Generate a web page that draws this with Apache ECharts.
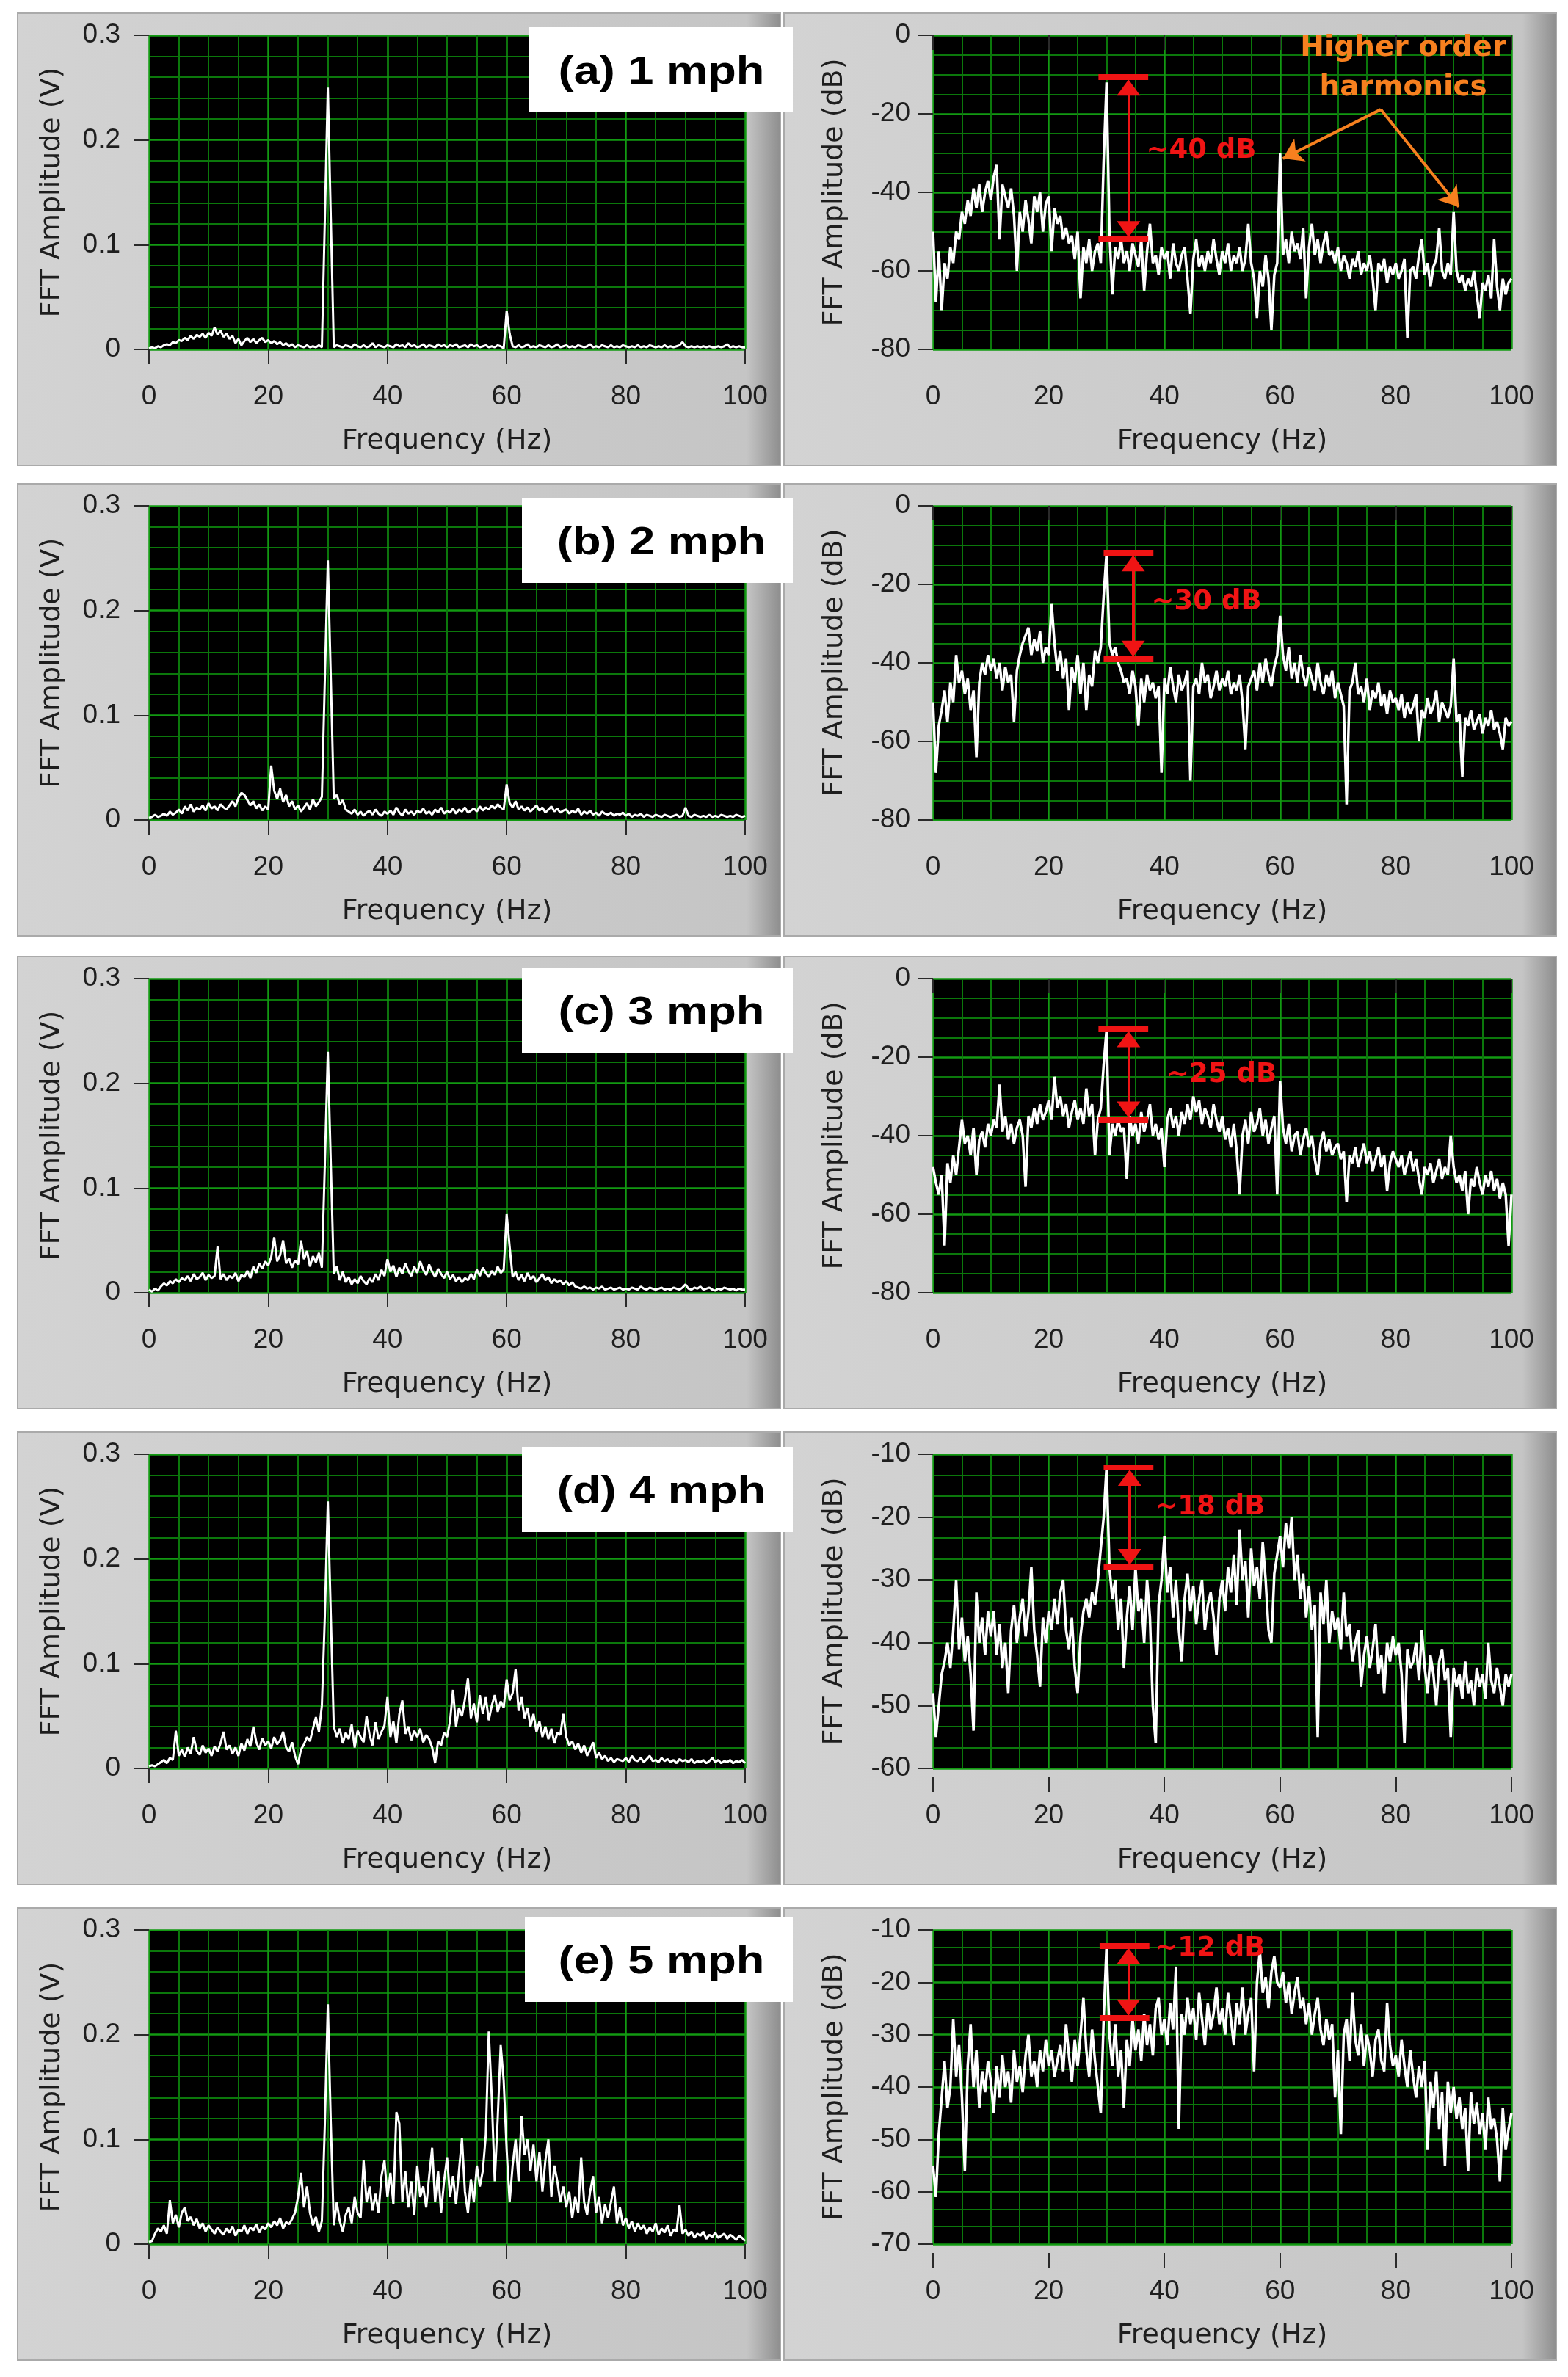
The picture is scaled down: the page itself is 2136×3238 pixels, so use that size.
<!DOCTYPE html>
<html>
<head>
<meta charset="utf-8">
<title>FFT spectra, 1 to 5 mph</title>
<script src="https://cdn.jsdelivr.net/npm/echarts@6/dist/echarts.min.js"></script>
<style>
html, body { margin: 0; padding: 0; background: #fff; }
#chart { width: 2136px; height: 3238px; }
</style>
</head>
<body>
<div id="chart"></div>
<script>
var FREQ_STEP = 0.5;

var speedTags = ['(a) 1 mph', '(b) 2 mph', '(c) 3 mph', '(d) 4 mph', '(e) 5 mph'];

// linear FFT amplitude (V)
var ampA = [
  0.001,0.002,0.001,0.003,0.002,0.004,0.005,0.004,0.007,0.006,0.009,0.008,0.011,0.009,0.013,0.010,0.014,0.012,0.015,0.011,
  0.016,0.013,0.021,0.014,0.018,0.012,0.015,0.010,0.013,0.006,0.010,0.004,0.008,0.011,0.007,0.010,0.006,0.009,0.011,0.007,
  0.009,0.006,0.008,0.005,0.007,0.004,0.006,0.003,0.005,0.002,0.004,0.003,0.002,0.004,0.002,0.003,0.002,0.004,0.002,0.125,
  0.250,0.125,0.002,0.004,0.003,0.002,0.004,0.003,0.002,0.005,0.003,0.002,0.004,0.002,0.003,0.006,0.002,0.004,0.003,0.002,
  0.004,0.003,0.002,0.005,0.003,0.004,0.002,0.006,0.003,0.004,0.002,0.003,0.005,0.002,0.004,0.003,0.002,0.005,0.003,0.004,
  0.002,0.004,0.003,0.005,0.002,0.003,0.004,0.002,0.005,0.003,0.004,0.002,0.003,0.004,0.002,0.003,0.002,0.004,0.003,0.001,
  0.037,0.015,0.003,0.002,0.004,0.002,0.003,0.005,0.002,0.003,0.002,0.004,0.003,0.002,0.004,0.002,0.003,0.005,0.002,0.003,
  0.004,0.002,0.003,0.002,0.004,0.003,0.002,0.003,0.005,0.002,0.003,0.002,0.004,0.003,0.002,0.004,0.002,0.003,0.002,0.004,
  0.003,0.002,0.003,0.002,0.004,0.002,0.003,0.002,0.004,0.003,0.002,0.003,0.002,0.004,0.002,0.003,0.002,0.003,0.004,0.007,
  0.003,0.002,0.003,0.002,0.003,0.002,0.003,0.002,0.003,0.002,0.002,0.003,0.002,0.003,0.005,0.002,0.003,0.002,0.003,0.002,
  0.002
];
var ampB = [
  0.002,0.003,0.005,0.003,0.004,0.006,0.004,0.008,0.005,0.007,0.010,0.006,0.013,0.009,0.015,0.008,0.012,0.010,0.014,0.009,
  0.016,0.011,0.013,0.009,0.015,0.012,0.010,0.014,0.018,0.013,0.021,0.026,0.024,0.019,0.014,0.018,0.011,0.015,0.009,0.013,
  0.010,0.052,0.028,0.020,0.030,0.017,0.024,0.013,0.018,0.010,0.014,0.008,0.012,0.016,0.010,0.020,0.013,0.017,0.022,0.135,
  0.248,0.135,0.020,0.024,0.015,0.019,0.010,0.008,0.006,0.010,0.005,0.008,0.004,0.007,0.009,0.005,0.010,0.006,0.004,0.008,
  0.006,0.009,0.005,0.012,0.007,0.004,0.010,0.006,0.008,0.005,0.009,0.007,0.011,0.006,0.008,0.005,0.010,0.007,0.012,0.006,
  0.009,0.007,0.011,0.006,0.010,0.008,0.012,0.007,0.009,0.011,0.008,0.013,0.009,0.012,0.010,0.014,0.011,0.015,0.012,0.010,
  0.034,0.016,0.012,0.018,0.010,0.013,0.009,0.012,0.008,0.011,0.014,0.009,0.012,0.007,0.010,0.013,0.008,0.011,0.007,0.009,
  0.010,0.006,0.009,0.007,0.011,0.005,0.008,0.006,0.009,0.005,0.007,0.004,0.008,0.006,0.005,0.007,0.004,0.006,0.005,0.007,
  0.004,0.006,0.003,0.005,0.004,0.006,0.003,0.005,0.004,0.003,0.005,0.004,0.003,0.005,0.004,0.003,0.004,0.005,0.003,0.004,
  0.012,0.004,0.003,0.005,0.004,0.003,0.004,0.003,0.005,0.003,0.004,0.003,0.005,0.004,0.003,0.004,0.003,0.005,0.004,0.003,
  0.004
];
var ampC = [
  0.003,0.001,0.004,0.002,0.006,0.009,0.007,0.011,0.009,0.013,0.010,0.014,0.012,0.016,0.011,0.018,0.013,0.015,0.019,0.012,
  0.017,0.014,0.016,0.044,0.013,0.018,0.012,0.016,0.014,0.019,0.011,0.017,0.015,0.021,0.014,0.025,0.019,0.028,0.023,0.030,
  0.026,0.034,0.053,0.030,0.036,0.050,0.028,0.033,0.024,0.031,0.027,0.050,0.032,0.040,0.025,0.035,0.029,0.038,0.024,0.123,
  0.230,0.123,0.018,0.025,0.012,0.020,0.010,0.015,0.008,0.013,0.009,0.016,0.011,0.008,0.014,0.010,0.018,0.012,0.022,0.016,
  0.032,0.020,0.026,0.015,0.024,0.018,0.028,0.021,0.016,0.025,0.019,0.030,0.022,0.017,0.027,0.020,0.015,0.023,0.018,0.014,
  0.020,0.013,0.017,0.011,0.015,0.010,0.014,0.012,0.018,0.013,0.022,0.016,0.024,0.019,0.015,0.021,0.017,0.025,0.019,0.022,
  0.075,0.044,0.015,0.020,0.012,0.017,0.011,0.019,0.013,0.016,0.010,0.014,0.018,0.012,0.015,0.009,0.013,0.010,0.012,0.008,
  0.011,0.007,0.010,0.006,0.005,0.004,0.006,0.004,0.005,0.003,0.005,0.004,0.006,0.003,0.004,0.005,0.003,0.004,0.005,0.003,
  0.004,0.003,0.005,0.004,0.003,0.006,0.004,0.003,0.005,0.004,0.003,0.004,0.005,0.003,0.004,0.003,0.005,0.004,0.003,0.005,
  0.008,0.004,0.003,0.005,0.004,0.006,0.003,0.004,0.005,0.003,0.002,0.004,0.003,0.005,0.004,0.003,0.004,0.002,0.004,0.003,
  0.003
];
var ampD = [
  0.002,0.003,0.002,0.004,0.006,0.008,0.005,0.010,0.008,0.036,0.012,0.018,0.011,0.020,0.014,0.030,0.017,0.013,0.022,0.015,
  0.019,0.012,0.021,0.016,0.024,0.035,0.018,0.022,0.014,0.020,0.012,0.024,0.017,0.028,0.021,0.040,0.025,0.018,0.029,0.022,
  0.026,0.019,0.030,0.023,0.027,0.035,0.020,0.016,0.025,0.012,0.004,0.018,0.023,0.030,0.026,0.038,0.049,0.035,0.060,0.146,
  0.255,0.146,0.040,0.030,0.038,0.024,0.034,0.028,0.042,0.020,0.036,0.030,0.025,0.050,0.032,0.022,0.044,0.028,0.035,0.041,
  0.068,0.030,0.045,0.024,0.052,0.065,0.033,0.040,0.027,0.036,0.030,0.038,0.025,0.032,0.028,0.020,0.005,0.026,0.022,0.034,
  0.030,0.045,0.075,0.040,0.058,0.050,0.066,0.086,0.048,0.062,0.044,0.070,0.052,0.068,0.046,0.060,0.070,0.054,0.064,0.058,
  0.085,0.065,0.072,0.095,0.055,0.068,0.048,0.058,0.040,0.052,0.035,0.045,0.030,0.040,0.028,0.038,0.024,0.034,0.032,0.052,
  0.030,0.022,0.026,0.018,0.024,0.015,0.022,0.012,0.018,0.025,0.010,0.015,0.009,0.012,0.007,0.010,0.006,0.009,0.008,0.007,
  0.010,0.006,0.012,0.008,0.007,0.010,0.006,0.009,0.012,0.007,0.008,0.006,0.010,0.007,0.009,0.006,0.008,0.005,0.009,0.007,
  0.008,0.006,0.009,0.005,0.007,0.006,0.008,0.005,0.007,0.010,0.006,0.008,0.005,0.007,0.006,0.008,0.005,0.007,0.006,0.008,
  0.005
];
var ampE = [
  0.002,0.003,0.010,0.015,0.012,0.018,0.010,0.042,0.020,0.028,0.016,0.030,0.035,0.022,0.026,0.018,0.024,0.015,0.020,0.012,
  0.018,0.014,0.010,0.016,0.012,0.009,0.015,0.011,0.017,0.008,0.014,0.012,0.018,0.010,0.016,0.013,0.019,0.011,0.017,0.014,
  0.020,0.016,0.022,0.018,0.025,0.015,0.021,0.019,0.024,0.030,0.045,0.068,0.035,0.055,0.030,0.018,0.026,0.012,0.022,0.115,
  0.229,0.115,0.018,0.040,0.022,0.012,0.028,0.035,0.020,0.045,0.030,0.025,0.080,0.040,0.055,0.032,0.048,0.030,0.065,0.080,
  0.045,0.068,0.038,0.126,0.115,0.040,0.070,0.035,0.060,0.028,0.075,0.045,0.055,0.035,0.065,0.092,0.040,0.070,0.030,0.060,
  0.083,0.045,0.065,0.038,0.070,0.101,0.050,0.030,0.062,0.040,0.075,0.055,0.070,0.104,0.203,0.140,0.060,0.120,0.190,0.156,
  0.090,0.040,0.075,0.100,0.060,0.122,0.085,0.100,0.070,0.095,0.060,0.088,0.050,0.080,0.100,0.045,0.075,0.060,0.040,0.055,
  0.035,0.050,0.025,0.045,0.030,0.083,0.040,0.028,0.050,0.065,0.030,0.045,0.020,0.038,0.025,0.040,0.055,0.020,0.035,0.018,
  0.025,0.015,0.022,0.012,0.020,0.014,0.018,0.010,0.016,0.012,0.020,0.009,0.015,0.011,0.018,0.008,0.014,0.012,0.037,0.010,
  0.014,0.008,0.012,0.006,0.010,0.008,0.012,0.005,0.009,0.007,0.011,0.006,0.008,0.010,0.005,0.009,0.007,0.004,0.008,0.006,
  0.003
];

// FFT amplitude in dB
var dbA = [
  -50,-68,-55,-70,-58,-62,-54,-58,-50,-52,-45,-48,-42,-46,-39,-44,-38,-45,-40,-37,
  -42,-36,-33,-52,-38,-41,-44,-39,-46,-60,-45,-50,-42,-47,-53,-41,-45,-40,-50,-43,
  -41,-55,-44,-48,-46,-52,-49,-53,-51,-57,-50,-67,-54,-58,-52,-60,-55,-53,-58,-32,
  -12,-50,-66,-54,-57,-52,-58,-55,-60,-53,-56,-59,-52,-65,-55,-48,-58,-56,-61,-54,
  -57,-55,-62,-53,-58,-60,-56,-54,-62,-71,-57,-52,-59,-56,-60,-55,-58,-52,-57,-61,
  -55,-58,-53,-60,-56,-58,-54,-60,-57,-48,-58,-62,-72,-60,-64,-56,-62,-75,-61,-58,
  -30,-56,-52,-58,-50,-55,-53,-57,-49,-67,-54,-48,-56,-52,-58,-53,-50,-56,-55,-58,
  -54,-60,-56,-58,-62,-57,-59,-55,-61,-58,-60,-56,-62,-70,-58,-60,-57,-63,-59,-61,
  -58,-62,-60,-57,-77,-60,-59,-62,-56,-52,-61,-58,-64,-59,-57,-49,-60,-62,-58,-61,
  -45,-60,-63,-61,-65,-62,-64,-60,-66,-72,-63,-65,-61,-67,-52,-64,-70,-62,-66,-63,
  -62
];
var dbB = [
  -50,-68,-56,-52,-47,-55,-45,-50,-38,-45,-42,-48,-44,-52,-47,-64,-45,-40,-43,-38,
  -42,-39,-44,-40,-47,-41,-45,-43,-55,-42,-38,-35,-33,-31,-38,-34,-37,-32,-40,-36,
  -38,-25,-35,-42,-37,-44,-39,-52,-41,-45,-38,-48,-40,-52,-43,-46,-37,-40,-36,-23,
  -12,-35,-38,-36,-40,-42,-45,-44,-48,-42,-46,-56,-44,-50,-43,-47,-45,-49,-46,-68,
  -44,-48,-41,-46,-50,-43,-47,-45,-42,-70,-46,-44,-48,-40,-45,-43,-49,-46,-42,-47,
  -44,-46,-42,-48,-45,-47,-43,-50,-62,-46,-44,-42,-47,-40,-45,-39,-43,-46,-41,-38,
  -28,-38,-42,-36,-44,-40,-45,-38,-43,-46,-41,-44,-47,-40,-45,-48,-43,-46,-42,-49,
  -45,-48,-51,-76,-47,-45,-40,-48,-46,-50,-44,-52,-47,-49,-45,-51,-48,-53,-47,-50,
  -49,-52,-48,-54,-50,-53,-51,-48,-60,-52,-54,-49,-53,-51,-47,-55,-50,-52,-54,-51,
  -39,-55,-53,-69,-54,-56,-52,-57,-55,-53,-58,-54,-56,-52,-57,-55,-58,-62,-54,-56,
  -55
];
var dbC = [
  -48,-52,-55,-50,-68,-47,-52,-45,-50,-43,-36,-42,-40,-45,-38,-50,-41,-39,-43,-37,
  -40,-36,-38,-27,-39,-35,-41,-37,-42,-38,-36,-40,-53,-35,-38,-33,-37,-32,-36,-34,
  -31,-36,-25,-33,-30,-35,-32,-38,-34,-31,-36,-33,-37,-28,-35,-32,-45,-36,-33,-22,
  -13,-45,-37,-40,-36,-39,-38,-51,-35,-40,-37,-42,-34,-39,-36,-32,-40,-37,-41,-38,
  -48,-36,-33,-38,-35,-40,-34,-37,-32,-36,-30,-34,-31,-37,-33,-35,-38,-32,-36,-39,
  -35,-41,-38,-43,-37,-44,-55,-40,-36,-42,-34,-39,-37,-33,-40,-36,-42,-38,-35,-55,
  -26,-38,-42,-37,-44,-40,-39,-45,-41,-38,-43,-40,-46,-50,-42,-39,-44,-41,-45,-43,
  -42,-46,-44,-57,-45,-47,-43,-48,-45,-42,-47,-44,-49,-46,-43,-48,-45,-54,-47,-44,
  -46,-48,-45,-50,-47,-44,-49,-46,-51,-55,-48,-50,-47,-52,-49,-46,-51,-48,-50,-40,
  -48,-52,-50,-54,-49,-60,-51,-53,-48,-52,-55,-50,-53,-49,-54,-51,-56,-52,-55,-68,
  -55
];
var dbD = [
  -48,-55,-50,-45,-43,-40,-44,-38,-30,-41,-36,-43,-39,-45,-54,-32,-40,-36,-42,-35,
  -39,-35,-42,-37,-44,-40,-48,-38,-34,-40,-36,-33,-39,-35,-28,-38,-42,-47,-36,-40,
  -35,-38,-33,-37,-32,-30,-38,-41,-36,-44,-48,-39,-35,-33,-36,-32,-34,-30,-25,-20,
  -12,-28,-33,-30,-38,-33,-44,-36,-31,-38,-28,-35,-33,-40,-30,-36,-50,-56,-34,-30,
  -23,-32,-28,-36,-30,-38,-43,-33,-29,-35,-31,-37,-33,-30,-38,-34,-32,-36,-42,-33,
  -30,-35,-28,-32,-26,-34,-22,-30,-27,-36,-25,-31,-28,-33,-24,-30,-38,-40,-29,-26,
  -23,-28,-21,-25,-20,-30,-26,-33,-29,-36,-31,-38,-34,-55,-32,-37,-30,-40,-35,-38,
  -36,-41,-32,-39,-37,-43,-40,-38,-47,-42,-39,-44,-41,-37,-45,-42,-48,-40,-43,-39,
  -42,-40,-45,-56,-41,-44,-43,-40,-46,-38,-44,-48,-42,-45,-50,-43,-41,-46,-44,-55,
  -44,-47,-45,-49,-43,-48,-46,-50,-44,-47,-45,-49,-40,-46,-48,-44,-47,-50,-45,-47,
  -45
];
var dbE = [
  -55,-61,-49,-42,-35,-44,-40,-27,-38,-32,-42,-56,-36,-28,-40,-33,-44,-37,-41,-35,
  -39,-45,-36,-42,-34,-40,-37,-43,-33,-39,-36,-41,-34,-30,-38,-35,-40,-33,-37,-31,
  -36,-33,-38,-35,-32,-37,-28,-34,-39,-31,-36,-30,-23,-33,-38,-29,-35,-40,-45,-27,
  -13,-30,-36,-28,-38,-33,-44,-31,-36,-27,-33,-29,-35,-26,-32,-28,-34,-25,-23,-30,
  -27,-32,-24,-29,-17,-48,-26,-30,-23,-28,-25,-31,-22,-27,-32,-24,-29,-26,-21,-28,
  -25,-30,-22,-27,-32,-24,-28,-21,-30,-26,-23,-37,-20,-14,-22,-19,-25,-18,-15,-20,
  -21,-18,-24,-20,-26,-22,-19,-25,-23,-28,-24,-30,-26,-23,-29,-32,-27,-31,-28,-42,
  -33,-49,-30,-27,-35,-22,-31,-34,-28,-36,-30,-33,-38,-31,-29,-35,-37,-24,-32,-36,
  -34,-38,-31,-36,-40,-33,-38,-42,-36,-40,-35,-52,-39,-44,-37,-48,-41,-55,-39,-45,
  -40,-46,-42,-48,-44,-56,-41,-47,-43,-49,-45,-52,-42,-48,-46,-50,-58,-44,-52,-48,
  -45
];

var ampSeries = [ampA, ampB, ampC, ampD, ampE];
var dbSeries = [dbA, dbB, dbC, dbD, dbE];

// dB axis range of each row
var dbMin = [-80, -80, -80, -60, -70];
var dbMax = [0, 0, 0, -10, -10];
var dbInterval = [20, 20, 20, 10, 10];
var dbMinorSplit = [4, 4, 4, 3, 3];

// red span annotation: peak level, noise level, text
var spanTop = [-10.7, -12, -12.8, -12.1, -13];
var spanBottom = [-52, -39, -36, -28, -26.8];
var spanText = ['~40 dB', '~30 dB', '~25 dB', '~18 dB', '~12 dB'];
var spanBarFrom = [28.6, 29.5, 28.6, 29.5, 28.8];
var spanArrowAt = [33.8, 34.6, 33.8, 34, 33.8];
var spanTextAt = [[36.8, -29.5], [37.7, -24.6], [40.3, -24.6], [38.3, -18.4], [38.3, -13.5]];

// orange "higher order harmonics" note on the 1 mph dB plot
var harmonicText = [81.3, -8.4];
var harmonicFrom = [77.4, -18.9];
var harmonicTips = [[60.5, -31.4], [90.9, -43.7]];

// ---- layout ----
var PLOT_TOP = [48, 689, 1333, 1981, 2629];
var PLOT_H = 428;
var LEFT_X = 203, LEFT_W = 812;
var RIGHT_X = 1271, RIGHT_W = 788;
var BOX_LEFT = [720, 711, 711, 711, 715];
var BOX_TOP = [37, 678, 1318, 1971, 2611];

var RED = '#f01414';
var ORANGE = '#f7801f';
var MAJOR = '#129a12';
var MINOR = '#0b780b';
var INK = '#1e1e1e';

function pairs(vals) {
  return vals.map(function (v, i) { return [i * FREQ_STEP, v]; });
}

function nameStyle() {
  return { fontFamily: 'DejaVu Sans', fontSize: 38, color: INK };
}

function freqAxis(gi) {
  return {
    gridIndex: gi, type: 'value', min: 0, max: 100, interval: 20, offset: 12,
    name: 'Frequency (Hz)', nameLocation: 'middle', nameGap: 94, nameTextStyle: nameStyle(),
    axisLine: { show: false },
    axisTick: { show: true, length: 20, lineStyle: { color: '#2a2a2a', width: 2 } },
    axisLabel: { margin: 34, color: INK, fontFamily: 'Liberation Sans', fontSize: 37 },
    splitLine: { show: true, lineStyle: { color: MAJOR, width: 2.5 } },
    minorTick: { show: false, splitNumber: 4 },
    minorSplitLine: { show: true, lineStyle: { color: MINOR, width: 2 } }
  };
}

function valueAxis(gi, opt) {
  return {
    gridIndex: gi, type: 'value', min: opt.min, max: opt.max, interval: opt.interval, offset: opt.offset,
    name: opt.name, nameLocation: 'middle', nameGap: opt.nameGap, nameTextStyle: nameStyle(),
    axisLine: { show: false },
    axisTick: { show: true, length: 20, lineStyle: { color: '#2a2a2a', width: 2 } },
    axisLabel: { margin: opt.margin, color: INK, fontFamily: 'Liberation Sans', fontSize: 37, formatter: opt.formatter },
    splitLine: { show: true, lineStyle: { color: MAJOR, width: 2.5 } },
    minorTick: { show: false, splitNumber: opt.minor },
    minorSplitLine: { show: true, lineStyle: { color: MINOR, width: 2 } }
  };
}

var grids = [], xAxes = [], yAxes = [], series = [], graphics = [];

for (var r = 0; r < 5; r++) {
  var gl = 2 * r, gr = 2 * r + 1;
  grids.push({ left: LEFT_X, top: PLOT_TOP[r], width: LEFT_W, height: PLOT_H, show: true,
    backgroundColor: '#000', borderWidth: 0, containLabel: false, outerBoundsMode: 'none' });
  grids.push({ left: RIGHT_X, top: PLOT_TOP[r], width: RIGHT_W, height: PLOT_H, show: true,
    backgroundColor: '#000', borderWidth: 0, containLabel: false, outerBoundsMode: 'none' });

  xAxes.push(freqAxis(gl), freqAxis(gr));
  yAxes.push(valueAxis(gl, { min: 0, max: 0.3, interval: 0.1, minor: 5, offset: 9, margin: 30,
    name: 'FFT Amplitude (V)', nameGap: 104,
    formatter: function (v) { return v === 0 ? '0' : v.toFixed(1); } }));
  yAxes.push(valueAxis(gr, { min: dbMin[r], max: dbMax[r], interval: dbInterval[r], minor: dbMinorSplit[r],
    offset: 7, margin: 24, name: 'FFT Amplitude (dB)', nameGap: 108,
    formatter: function (v) { return String(v); } }));

  series.push({
    type: 'line', xAxisIndex: gl, yAxisIndex: gl, data: pairs(ampSeries[r]),
    showSymbol: false, symbol: 'none', lineStyle: { color: '#fff', width: 3 }, z: 3
  });

  // red span: bars + value text
  var unitPerPx = (dbMax[r] - dbMin[r]) / PLOT_H;
  series.push({
    type: 'line', xAxisIndex: gr, yAxisIndex: gr, data: pairs(dbSeries[r]),
    showSymbol: false, symbol: 'none', lineStyle: { color: '#fff', width: 3.5 }, z: 3,
    markLine: {
      silent: true, animation: false, symbol: ['none', 'none'], label: { show: false },
      lineStyle: { color: RED, width: 8, type: 'solid' },
      data: [
        [{ coord: [spanBarFrom[r], spanTop[r]] }, { coord: [spanBarFrom[r] + 8.6, spanTop[r]] }],
        [{ coord: [spanBarFrom[r], spanBottom[r]] }, { coord: [spanBarFrom[r] + 8.6, spanBottom[r]] }]
      ]
    },
    markPoint: {
      silent: true, animation: false, symbol: 'circle', symbolSize: 1,
      itemStyle: { color: 'rgba(0,0,0,0)' },
      label: { show: true, position: 'right', distance: 0, formatter: spanText[r], color: RED,
        fontFamily: 'DejaVu Sans', fontWeight: 'bold', fontSize: 37 },
      data: [{ coord: spanTextAt[r] }]
    }
  });
  // red double arrow between the bars
  series.push({
    type: 'line', xAxisIndex: gr, yAxisIndex: gr, data: [], z: 4,
    markLine: {
      silent: true, animation: false, symbol: ['triangle', 'triangle'], symbolSize: [32, 22],
      label: { show: false }, lineStyle: { color: RED, width: 4, type: 'solid' },
      data: [[{ coord: [spanArrowAt[r], spanTop[r] - 14 * unitPerPx] },
              { coord: [spanArrowAt[r], spanBottom[r] + 14 * unitPerPx] }]]
    }
  });

  // frames
  graphics.push({
    type: 'rect', z: -10,
    shape: { x: 24, y: PLOT_TOP[r] - 30, width: 1039, height: 616 },
    style: { fill: { type: 'linear', x: 0, y: 0, x2: 1, y2: 0, colorStops: [
      { offset: 0, color: '#d3d3d3' }, { offset: 0.955, color: '#c5c5c5' }, { offset: 1, color: '#8d8d8d' }] },
      stroke: '#aaaaaa', lineWidth: 2 }
  });
  graphics.push({
    type: 'rect', z: -10,
    shape: { x: 1068, y: PLOT_TOP[r] - 30, width: 1052, height: 616 },
    style: { fill: { type: 'linear', x: 0, y: 0, x2: 1, y2: 0, colorStops: [
      { offset: 0, color: '#d3d3d3' }, { offset: 0.955, color: '#c5c5c5' }, { offset: 1, color: '#8d8d8d' }] },
      stroke: '#aaaaaa', lineWidth: 2 }
  });
  // speed tag box
  graphics.push({
    type: 'rect', z: 100,
    shape: { x: BOX_LEFT[r], y: BOX_TOP[r], width: 1080 - BOX_LEFT[r], height: 116 },
    style: { fill: '#ffffff' }
  });
  graphics.push({
    type: 'text', z: 101, x: 901, y: BOX_TOP[r] + 62, scaleX: 1.17,
    style: { text: speedTags[r], fill: '#000', font: 'bold 54px "Liberation Sans"',
      textAlign: 'center', align: 'center', textVerticalAlign: 'middle', verticalAlign: 'middle' }
  });
}

// orange harmonics note on the first dB plot
series.push({
  type: 'line', xAxisIndex: 1, yAxisIndex: 1, data: [], z: 4,
  markLine: {
    silent: true, animation: false, symbol: ['none', 'arrow'], symbolSize: 26,
    label: { show: false }, lineStyle: { color: ORANGE, width: 4, type: 'solid' },
    data: harmonicTips.map(function (t) { return [{ coord: harmonicFrom }, { coord: t }]; })
  },
  markPoint: {
    silent: true, animation: false, symbol: 'circle', symbolSize: 1,
    itemStyle: { color: 'rgba(0,0,0,0)' },
    label: { show: true, position: 'inside', formatter: 'Higher order\nharmonics', color: ORANGE,
      fontFamily: 'DejaVu Sans', fontWeight: 'bold', fontSize: 39, lineHeight: 54, align: 'center' },
    data: [{ coord: harmonicText }]
  }
});

var chart = echarts.init(document.getElementById('chart'), null, { renderer: 'canvas' });
chart.setOption({
  animation: false,
  backgroundColor: '#ffffff',
  grid: grids,
  xAxis: xAxes,
  yAxis: yAxes,
  series: series,
  graphic: { elements: graphics }
});
</script>
</body>
</html>
